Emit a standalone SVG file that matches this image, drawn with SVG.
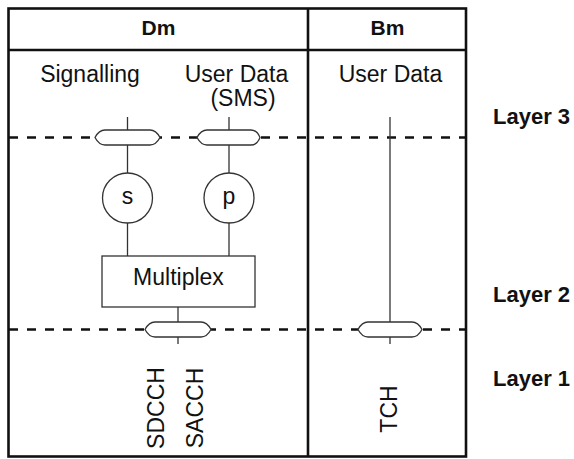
<svg xmlns="http://www.w3.org/2000/svg" width="574" height="459" viewBox="0 0 574 459">
  <style>
    .frame { fill: none; stroke: #111; stroke-width: 2.6; }
    .dash { fill: none; stroke: #111; stroke-width: 2.6; stroke-dasharray: 9 9; }
    .conn { fill: none; stroke: #333; stroke-width: 1.3; }
    .shape { fill: #fff; stroke: #333; stroke-width: 1.3; }
    .t { font-family: "Liberation Sans", Arial, sans-serif; font-size: 23px; fill: #111; }
    .b { font-weight: bold; }
    .m { text-anchor: middle; }
  </style>
  <rect width="574" height="459" fill="#fff"/>

  <g id="frame">
    <rect class="frame" x="8.5" y="8.5" width="457.5" height="448"/>
    <line class="frame" x1="8.5" y1="50" x2="466" y2="50"/>
    <line class="frame" x1="308" y1="8.5" x2="308" y2="456.5"/>
    <text class="t b m" x="158.5" y="35" style="font-size:21px">Dm</text>
    <text class="t b m" x="387.5" y="35" style="font-size:21px">Bm</text>
  </g>

  <g id="layers">
    <line class="dash" x1="9" y1="137.5" x2="466" y2="137.5"/>
    <line class="dash" x1="9" y1="329.5" x2="466" y2="329.5"/>
    <text class="t b" x="493" y="124" style="font-size:22px">Layer 3</text>
    <text class="t b" x="493" y="302" style="font-size:22px">Layer 2</text>
    <text class="t b" x="493" y="386" style="font-size:22px">Layer 1</text>
  </g>

  <g id="connectors">
    <line class="conn" x1="127.5" y1="117" x2="127.5" y2="256"/>
    <line class="conn" x1="229" y1="117" x2="229" y2="256"/>
    <line class="conn" x1="178" y1="307" x2="178" y2="344"/>
    <line class="conn" x1="390" y1="117" x2="390" y2="344"/>
  </g>

  <g id="sap-signalling">
    <path class="shape" d="M95,137.5 Q99,130 105,130 H150 Q156,130 160,137.5 Q156,145 150,145 H105 Q99,145 95,137.5 Z"/>
  </g>
  <g id="sap-userdata">
    <path class="shape" d="M197,137.5 Q201,130 207,130 H251 Q257,130 260,137.5 Q257,145 251,145 H207 Q201,145 197,137.5 Z"/>
  </g>
  <g id="sap-l2-dm">
    <path class="shape" d="M145,329.5 Q149,322 155,322 H201 Q207,322 211,329.5 Q207,337 201,337 H155 Q149,337 145,329.5 Z"/>
  </g>
  <g id="sap-l2-bm">
    <path class="shape" d="M358,329.5 Q362,322 368,322 H412 Q418,322 422,329.5 Q418,337 412,337 H368 Q362,337 358,329.5 Z"/>
  </g>

  <g id="node-s">
    <circle class="shape" cx="127.5" cy="198" r="25"/>
    <text class="t m" x="127.5" y="204">s</text>
  </g>
  <g id="node-p">
    <circle class="shape" cx="229" cy="198" r="25"/>
    <text class="t m" x="229" y="204">p</text>
  </g>
  <g id="node-multiplex">
    <rect class="shape" x="102" y="256" width="153" height="51"/>
    <text class="t m" x="178.5" y="285">Multiplex</text>
  </g>

  <g id="labels">
    <text class="t m" x="90" y="82">Signalling</text>
    <text class="t m" x="236.5" y="82">User Data</text>
    <text class="t m" x="243" y="106">(SMS)</text>
    <text class="t m" x="390.5" y="82">User Data</text>
    <text class="t m" transform="translate(163.5,408) rotate(-90)">SDCCH</text>
    <text class="t m" transform="translate(203,408) rotate(-90)">SACCH</text>
    <text class="t m" transform="translate(397,409) rotate(-90)">TCH</text>
  </g>
</svg>
